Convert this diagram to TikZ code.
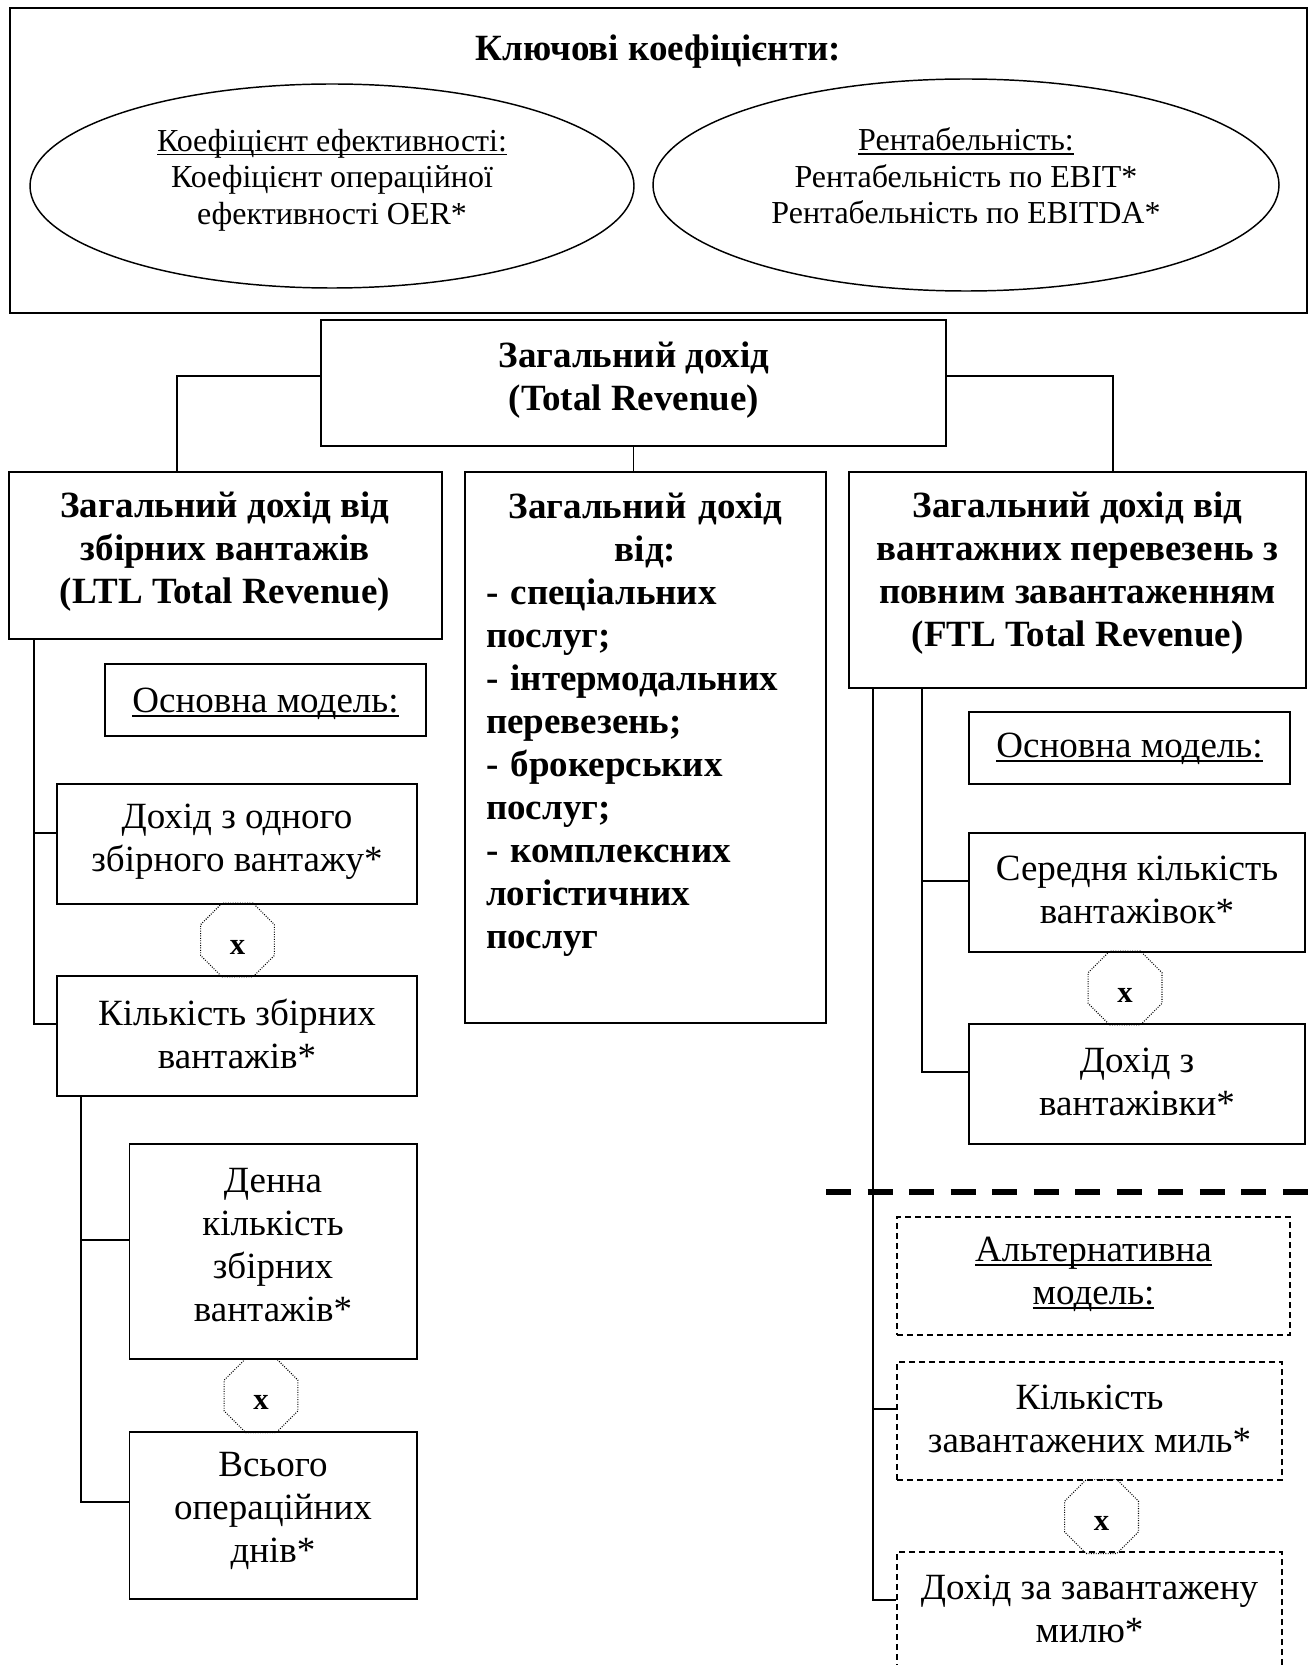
\documentclass[tikz,border=0pt]{standalone}
\usepackage{fontspec}
\setmainfont{Liberation Serif}
\usetikzlibrary{shapes.geometric,fit}

% underline at a fixed depth below the baseline
\newsavebox\ulbox
\newcommand{\uln}[1]{\sbox\ulbox{#1}\rlap{\rule[-0.13em]{\wd\ulbox}{0.055em}}\usebox\ulbox}
% the bold "x" between two factors, set a little low
\newcommand{\timesmark}{\raisebox{-5.25pt}[\height][0pt]{x}}

\begin{document}
\begin{tikzpicture}[x=0.75pt,y=-0.75pt,
  box/.style={draw, line width=1.2pt, inner sep=0pt},
  dbox/.style={draw, line width=1pt, dash pattern=on 4.5pt off 3pt, inner sep=0pt},
  frame/.style={draw, line width=1.5pt, inner sep=0pt},
  oval/.style={draw, ellipse, line width=1.1pt, inner sep=0pt},
  oct/.style={draw, regular polygon, regular polygon sides=8, minimum size=60pt,
    inner sep=0pt, line width=0.8pt, dash pattern=on 0.7pt off 1.1pt,
    font=\fontsize{23}{26}\selectfont\bfseries},
  link/.style={line width=1pt},
  divider/.style={line width=4.5pt, dash pattern=on 18.75pt off 12.4pt},
  txt/.style={inner sep=0pt, align=center, font=\fontsize{27.75}{32.25}\selectfont},
  btxt/.style={inner sep=0pt, align=center, font=\fontsize{27.75}{32.25}\selectfont\bfseries},
  etxt/.style={inner sep=0pt, align=center, font=\fontsize{24}{27.4}\selectfont},
]
\useasboundingbox (0,0) rectangle (1311,1665);

% key ratios
\node[frame, fit={(10,8) (1307,313)}] (keys) {};
\node[btxt] (keyst) at (658.5,51.5) {Ключові коефіцієнти:};
\node[oval, minimum width=453pt, minimum height=153pt] (eff) at (332,186) {};
\node[etxt] (efft) at (332,180) {\uln{Коефіцієнт ефективності:}\\Коефіцієнт операційної\\ефективності OER*};
\node[oval, minimum width=469.5pt, minimum height=159pt] (prof) at (966,185) {};
\node[etxt] (proft) at (966,176) {\uln{Рентабельність:}\\Рентабельність по EBIT*\\Рентабельність по EBITDA*};

% total revenue and its three parts
\node[box, fit={(321,320) (946,446)}] (tr) {};
\node[btxt] (trt) at (634,380) {Загальний дохід\\(Total Revenue)};

\node[box, fit={(9,472) (442,639)}] (ltl) {};
\node[btxt] (ltlt) at (225,552) {Загальний дохід від\\збірних вантажів\\(LTL Total Revenue)};

\node[box, fit={(465,472) (826,1023)}] (oth) {};
\node[inner sep=0pt, text width=239.25pt, font=\fontsize{27.75}{32.25}\selectfont\bfseries] (otht) at (645.5,724.5)
  {\setlength{\parindent}{0pt}\setlength{\parskip}{0pt}%
   \centering Загальний дохід\\від:\par
   \raggedright - спеціальних\\послуг;\\- інтермодальних\\перевезень;\\- брокерських\\послуг;\\- комплексних\\логістичних\\послуг\par};

\node[box, fit={(849,472) (1306,688)}] (ftl) {};
\node[btxt] (ftlt) at (1077.5,573.5) {Загальний дохід від\\вантажних перевезень з\\повним завантаженням\\(FTL Total Revenue)};

% LTL model
\node[box, fit={(105,664) (426,736)}] (lmod) {};
\node[txt] (lmodt) at (265.5,704) {\uln{Основна модель:}};
\node[box, fit={(57,784) (417,904)}] (rps) {};
\node[txt] (rpst) at (237,842) {Дохід з одного\\збірного вантажу*};
\node[oct] (x1) at (237.5,940) {\timesmark};
\node[box, fit={(57,976) (417,1096)}] (nsh) {};
\node[txt] (nsht) at (237,1034) {Кількість збірних\\вантажів*};
\node[box, fit={(129.5,1144) (417,1359)}] (dsh) {};
\node[txt] (dsht) at (273,1245) {Денна\\кількість\\збірних\\вантажів*};
\node[oct] (x2) at (261,1395.5) {\timesmark};
\node[box, fit={(129.5,1432) (417,1599)}] (days) {};
\node[txt] (dayst) at (273,1511) {Всього\\операційних\\днів*};

% FTL basic model
\node[box, fit={(969,712) (1290,784)}] (fmod) {};
\node[txt] (fmodt) at (1129.5,749) {\uln{Основна модель:}};
\node[box, fit={(969,833) (1305,952)}] (trk) {};
\node[txt] (trkt) at (1137,890) {Середня кількість\\вантажівок*};
\node[oct] (x3) at (1125,988) {\timesmark};
\node[box, fit={(969,1024) (1305,1144)}] (rpt) {};
\node[txt] (rptt) at (1137,1082) {Дохід з\\вантажівки*};

% FTL alternative model
\node[dbox, fit={(897,1217) (1290,1335)}] (amod) {};
\node[txt] (amodt) at (1093.5,1274) {\uln{Альтернативна}\\\uln{модель:}};
\node[dbox, fit={(897,1362) (1282,1480)}] (miles) {};
\node[txt] (milest) at (1089.5,1418.5) {Кількість\\завантажених миль*};
\node[oct] (x4) at (1101.5,1516.5) {\timesmark};
\node[dbox, fit={(897,1552) (1282,1720)}] (rpm) {};
\node[txt] (rpmt) at (1089.5,1609) {Дохід за завантажену\\милю*};

% connectors from total revenue
\coordinate (cl) at (177,376);
\coordinate (cr) at (1113,376);
\draw[link] (tr.west |- cl) -- (cl) -- (cl |- ltl.north);
\draw[link] (tr.east |- cr) -- (cr) -- (cr |- ftl.north);
\draw[link] (tr.south) -- (tr.south |- oth.north);

% LTL trunks
\coordinate (lb1) at (34,833);
\coordinate (lb2) at (34,1024);
\draw[link] (lb1 |- ltl.south) -- (lb2) -- (lb2 -| nsh.west);
\draw[link] (lb1) -- (lb1 -| rps.west);
\coordinate (lc1) at (81,1240);
\coordinate (lc2) at (81,1502);
\draw[link] (lc1 |- nsh.south) -- (lc2) -- (lc2 -| days.west);
\draw[link] (lc1) -- (lc1 -| dsh.west);

% FTL trunks
\coordinate (fi1) at (922,881);
\coordinate (fi2) at (922,1072);
\draw[link] (fi1 |- ftl.south) -- (fi2) -- (fi2 -| rpt.west);
\draw[link] (fi1) -- (fi1 -| trk.west);
\coordinate (fo1) at (873,1409);
\coordinate (fo2) at (873,1600);
\draw[link] (fo1 |- ftl.south) -- (fo2) -- (fo2 -| rpm.west);
\draw[link] (fo1) -- (fo1 -| miles.west);

% divider between the two FTL models
\coordinate (dvl) at (826,1192);
\coordinate (dvr) at (1311,1192);
\draw[divider] (dvl) -- (dvr);
\end{tikzpicture}
\end{document}
